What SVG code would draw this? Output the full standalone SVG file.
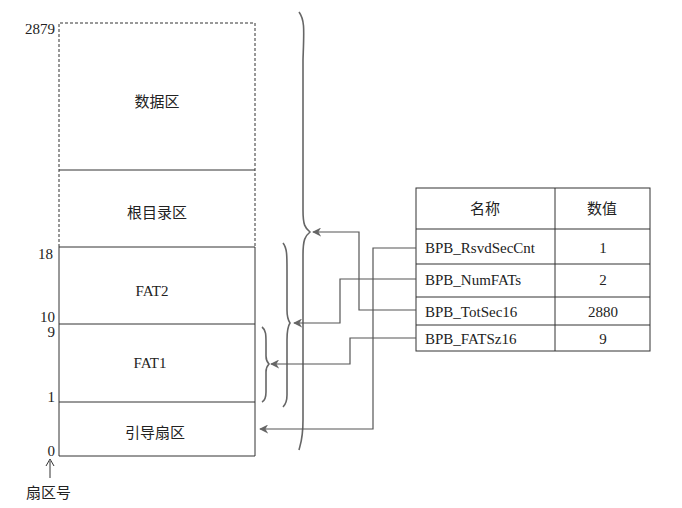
<svg xmlns="http://www.w3.org/2000/svg" width="682" height="508" viewBox="0 0 682 508">
<style>
.t{font-family:"Liberation Serif",serif;font-size:15px;fill:#222}
.z{font-family:"Noto Sans CJK SC",sans-serif;font-size:15px;fill:#222}
.c{text-anchor:middle}
.r{text-anchor:end}
.ln{stroke:#333;stroke-width:1;fill:none}
.d{stroke:#333;stroke-width:1;stroke-dasharray:3,2;fill:none}
.br{stroke:#666;stroke-width:1.6;fill:none}
.cn{stroke:#555;stroke-width:1.2;fill:none;marker-end:url(#a)}
</style>
<defs><marker id="a" viewBox="0 0 10 10" refX="9" refY="5" markerWidth="9" markerHeight="9" orient="auto" markerUnits="userSpaceOnUse"><path d="M0,5 L10,0 L7,5 L10,10 Z" fill="#666" transform="rotate(180 5 5)"/></marker></defs>
<rect width="682" height="508" fill="#fff"/>
<g id="memory">
<path class="d" d="M59,247 V23 H255 V247"/>
<line class="ln" x1="59" y1="170" x2="255" y2="170"/>
<path class="ln" d="M59,247 H255 V456 H59 Z M59,324 H255 M59,402 H255"/>
<text class="z c" x="157" y="107">数据区</text>
<text class="z c" x="157" y="218">根目录区</text>
<text class="t c" x="152" y="296">FAT2</text>
<text class="t c" x="150" y="368">FAT1</text>
<text class="z c" x="155" y="438">引导扇区</text>
<text class="t r" x="55" y="34">2879</text>
<text class="t r" x="53" y="259">18</text>
<text class="t r" x="55" y="322">10</text>
<text class="t r" x="55" y="337">9</text>
<text class="t r" x="55" y="402">1</text>
<text class="t r" x="55" y="456">0</text>
<line x1="50" y1="478" x2="50" y2="461" stroke="#333" stroke-width="1"/>
<path d="M46,466 L50,459 L54,466" stroke="#333" fill="none"/>
<text class="z" x="26" y="498">扇区号</text>
</g>
<g id="braces">
<path class="br" d="M299,12 C305,20 304,30 303,60 L303,210 C303,225 305,228 310,232 C305,236 303,240 303,255 L303,420 C303,440 300,445 299,450"/>
<path class="br" d="M283,243 C287,248 287,255 287,270 L287,310 C287,318 288,320 290,323 C288,326 287,330 287,340 L287,395 C287,402 285,405 283,407"/>
<path class="br" d="M262,327 C266,330 266,335 266,343 L266,356 C266,360 267,362 269,364 C267,366 266,368 266,372 L266,392 C266,398 264,401 262,402"/>
</g>
<g id="table">
<rect x="416" y="188" width="234" height="163" class="ln"/>
<path class="ln" d="M555,188 V351 M416,229 H650 M416,264 H650 M416,297 H650 M416,325 H650"/>
<text class="z c" x="485" y="214">名称</text>
<text class="z c" x="602" y="214">数值</text>
<text class="t" x="425" y="253">BPB_RsvdSecCnt</text>
<text class="t c" x="603" y="253">1</text>
<text class="t" x="425" y="285">BPB_NumFATs</text>
<text class="t c" x="603" y="285">2</text>
<text class="t" x="425" y="317">BPB_TotSec16</text>
<text class="t c" x="603" y="317">2880</text>
<text class="t" x="425" y="344">BPB_FATSz16</text>
<text class="t c" x="603" y="344">9</text>
</g>
<g id="connectors">
<path class="cn" d="M416,248 H373 V429 H260"/>
<path class="cn" d="M416,279 H340 V323 H294"/>
<path class="cn" d="M416,310 H359 V232 H313"/>
<path class="cn" d="M416,338 H350 V364 H271"/>
</g>
</svg>
